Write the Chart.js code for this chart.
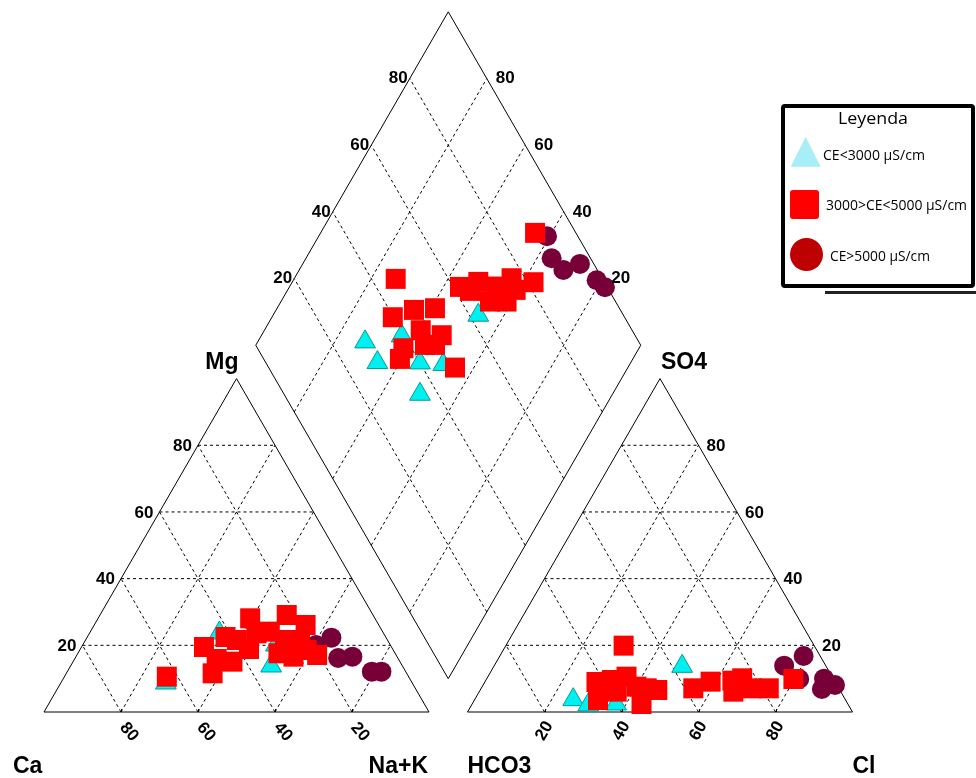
<!DOCTYPE html>
<html><head><meta charset="utf-8">
<script src="https://cdn.jsdelivr.net/npm/chart.js@4.4.0/dist/chart.umd.min.js"></script>
<style>
html,body{margin:0;padding:0;background:#fff;}
#wrap{position:relative;width:976px;height:778px;overflow:hidden;background:#fff;}
#c{position:absolute;left:0;top:0;}
#leg{position:absolute;left:0;top:0;pointer-events:none;}
</style></head>
<body><div id="wrap"><canvas id="c" width="976" height="778"></canvas>
<svg id="leg" width="976" height="778" xmlns="http://www.w3.org/2000/svg">
  <rect x="825" y="291" width="151" height="3" fill="#222"/>
  <rect x="783" y="106" width="190" height="180" rx="2" fill="#fff" stroke="#000" stroke-width="4"/>
  <text x="838" y="124" font-family="Open Sans" font-size="17" textLength="70" lengthAdjust="spacingAndGlyphs">Leyenda</text>
  <polygon points="790.7,166.7 820.7,166.7 805.7,136.7" fill="#a8eef7"/>
  <text x="823" y="160" font-family="Open Sans" font-size="14" textLength="102" lengthAdjust="spacingAndGlyphs">CE&lt;3000 µS/cm</text>
  <rect x="790" y="190" width="29" height="29" rx="3" fill="#ff0000"/>
  <text x="826" y="210" font-family="Open Sans" font-size="14" textLength="141" lengthAdjust="spacingAndGlyphs">3000&gt;CE&lt;5000 µS/cm</text>
  <circle cx="806.5" cy="254.5" r="16.5" fill="#bf0000"/>
  <text x="830" y="260.5" font-family="Open Sans" font-size="14" textLength="100" lengthAdjust="spacingAndGlyphs">CE&gt;5000 µS/cm</text>
</svg>
</div>
<script>
// ---------- data (percent of meq/L) ----------
const ticks = [20, 40, 60, 80];
const axisNames = ['Mg', 'SO4', 'Ca', 'Na+K', 'HCO3', 'Cl'];
const seriesNames = ['CE<3000 µS/cm', '3000>CE<5000 µS/cm', 'CE>5000 µS/cm'];

// cation triangle: [Mg, Na+K]
const catLow  = [[8.7,27.3],[23.7,33.7],[13.8,52.1],[20.1,50.2]];
const catMid  = [[10.6,26.6],[11.6,38.0],[19.5,31.8],[22.5,35.9],[15.9,36.9],[28.1,39.5],[21.6,39.3],[15.1,41.4],[23.6,43.4],[18.9,43.8],[24.1,46.6],[29.1,48.5],[26.1,54.9],[17.6,52.1],[16.6,56.5],[18.6,58.9],[17.1,62.4],[21.6,55.7],[21.6,51.8]];
const catHigh = [[22.3,63.5],[20.1,60.6],[16.2,68.3],[16.6,71.8],[12.1,79.1],[12.1,81.6]];

// anion triangle: [SO4, Cl]
const anLow  = [[13.7,48.9],[3.7,25.6],[2.4,37.4],[2.1,30.3]];
const anMid  = [[19.9,30.6],[9.0,29.0],[3.6,32.1],[10.6,36.0],[6.1,35.7],[2.4,44.0],[7.6,40.1],[6.6,46.0],[7.1,55.1],[9.1,58.6],[9.4,64.1],[10.1,66.3],[6.1,66.0],[7.1,70.3],[7.1,74.7],[9.9,79.7],[9.6,32.7],[7.1,43.0]];
const anHigh = [[13.9,75.3],[16.8,78.9],[9.9,81.2],[10.0,87.6],[6.9,88.6],[8.1,91.4]];

// diamond: [Ca+Mg, Cl+SO4]
const diaLow  = [[72.1,28.9],[65.8,29.0],[63.5,39.3],[46.7,62.3],[54.7,40.0],[48.4,45.8],[50.0,35.3]];
const diaMid  = [[44.3,89.4],[73.6,46.3],[55.7,61.8],[51.7,67.3],[43.6,76.5],[37.3,81.6],[45.7,67.4],[41.4,71.7],[40.8,75.8],[46.2,71.4],[68.6,39.8],[64.2,46.4],[59.0,52.1],[59.4,45.1],[53.2,49.8],[53.5,46.6],[61.2,37.9],[60.5,35.4],[44.9,48.4],[56.1,44.0],[52.5,63.8]];
const diaHigh = [[40.7,92.0],[36.2,89.9],[31.4,91.2],[28.0,96.4],[21.2,98.3],[18.0,99.4]];

// ---------- ternary geometry (triangle side = 100 units) ----------
const H = Math.sqrt(3) / 2;
function cat(mg, nak) { return {x: nak + mg / 2, y: mg * H}; }
function an(so4, cl) { return {x: 110 + cl + so4 / 2, y: so4 * H}; }
function dia(camg, clso4) { return {x: 105 - camg / 2 + clso4 / 2, y: H * (10 + camg + clso4)}; }

const PX = 3.85, OX = 44, OY = 712, W = 976, HH = 778;

const lineSets = [];
function seg(a, b, dashed) {
  lineSets.push({data: [a, b], showLine: true, borderColor: '#000', borderWidth: 1,
    borderDash: dashed ? [3, 3] : [], pointRadius: 0, pointHoverRadius: 0, order: 20, fill: false});
}
// outlines
seg(cat(0,0), cat(0,100)); seg(cat(0,100), cat(100,0)); seg(cat(100,0), cat(0,0));
seg(an(0,0), an(0,100)); seg(an(0,100), an(100,0)); seg(an(100,0), an(0,0));
seg(dia(0,0), dia(100,0)); seg(dia(100,0), dia(100,100)); seg(dia(100,100), dia(0,100)); seg(dia(0,100), dia(0,0));
// grids
ticks.forEach(k => {
  seg(cat(k,0), cat(k,100-k), true);
  seg(cat(0,k), cat(100-k,k), true);
  seg(cat(0,100-k), cat(100-k,0), true);
  seg(an(k,0), an(k,100-k), true);
  seg(an(0,k), an(100-k,k), true);
  seg(an(0,100-k), an(100-k,0), true);
  seg(dia(k,0), dia(k,100), true);
  seg(dia(0,k), dia(100,k), true);
});

const low  = [...catLow.map(p => cat(...p)), ...anLow.map(p => an(...p)), ...diaLow.map(p => dia(...p))];
const mid  = [...catMid.map(p => cat(...p)), ...anMid.map(p => an(...p)), ...diaMid.map(p => dia(...p))];
const high = [...catHigh.map(p => cat(...p)), ...anHigh.map(p => an(...p)), ...diaHigh.map(p => dia(...p))];

const labelPlugin = {
  id: 'labels',
  afterDatasetsDraw(chart) {
    const ctx = chart.ctx, sx = chart.scales.x, sy = chart.scales.y;
    const P = p => [sx.getPixelForValue(p.x), sy.getPixelForValue(p.y)];
    ctx.save();
    ctx.fillStyle = '#000';
    ctx.strokeStyle = '#000';
    ctx.lineWidth = 1;
    // small base ticks
    ticks.forEach(k => {
      [cat(0,k), an(0,k)].forEach(p => {
        const [x, y] = P(p);
        ctx.beginPath(); ctx.moveTo(Math.round(x) + 0.5, y); ctx.lineTo(Math.round(x) + 0.5, y - 3); ctx.stroke();
      });
    });
    ctx.font = 'bold 17px "Liberation Sans", Arial, sans-serif';
    ctx.textBaseline = 'middle';
    ticks.forEach(k => {
      let x, y;
      [x, y] = P(cat(k, 0)); ctx.textAlign = 'right'; ctx.fillText(String(k), x - 6, y + 1);
      [x, y] = P(an(k, 100 - k)); ctx.textAlign = 'left'; ctx.fillText(String(k), x + 8, y + 1);
      [x, y] = P(dia(100, k)); ctx.textAlign = 'right'; ctx.fillText(String(k), x - 2, y);
      [x, y] = P(dia(k, 100)); ctx.textAlign = 'left'; ctx.fillText(String(k), x + 9, y);
      // bottom rotated labels
      [x, y] = P(cat(0, k));
      ctx.save(); ctx.translate(x + 8, y + 20); ctx.rotate(50 * Math.PI / 180);
      ctx.textAlign = 'center'; ctx.fillText(String(100 - k), 0, 0); ctx.restore();
      [x, y] = P(an(0, k));
      ctx.save(); ctx.translate(x, y + 19); ctx.rotate(-60 * Math.PI / 180);
      ctx.textAlign = 'center'; ctx.fillText(String(k), 0, 0); ctx.restore();
    });
    // axis names
    ctx.font = 'bold 23px "Liberation Sans", Arial, sans-serif';
    ctx.textBaseline = 'alphabetic';
    let x, y;
    [x, y] = P(cat(100, 0)); ctx.textAlign = 'right'; ctx.fillText(axisNames[0], x + 2, y - 10);
    [x, y] = P(an(100, 0)); ctx.textAlign = 'left'; ctx.fillText(axisNames[1], x + 1, y - 10);
    [x, y] = P(cat(0, 0)); ctx.textAlign = 'left'; ctx.fillText(axisNames[2], x - 31, y + 61);
    [x, y] = P(cat(0, 100)); ctx.textAlign = 'right'; ctx.fillText(axisNames[3], x - 1, y + 61);
    [x, y] = P(an(0, 0)); ctx.textAlign = 'left'; ctx.fillText(axisNames[4], x, y + 61);
    [x, y] = P(an(0, 100)); ctx.textAlign = 'left'; ctx.fillText(axisNames[5], x, y + 61);
    ctx.restore();
  }
};

new Chart(document.getElementById('c'), {
  type: 'scatter',
  data: {
    datasets: [
      {label: seriesNames[1], data: mid, pointStyle: 'rect', pointRadius: 14.14, pointHoverRadius: 14.14,
       backgroundColor: '#ff0000', borderColor: '#cc0000', borderWidth: 0, order: 1},
      {label: seriesNames[2], data: high, pointStyle: 'circle', pointRadius: 10, pointHoverRadius: 10,
       backgroundColor: '#780038', borderColor: '#780038', borderWidth: 0, order: 2},
      {label: seriesNames[0], data: low, pointStyle: 'triangle', pointRadius: 12, pointHoverRadius: 12,
       backgroundColor: '#00f0f0', borderColor: '#009a9a', borderWidth: 1, order: 3},
      ...lineSets
    ]
  },
  options: {
    responsive: false,
    animation: false,
    devicePixelRatio: 1,
    layout: {padding: 0, autoPadding: false},
    events: [],
    plugins: {legend: {display: false}, tooltip: {enabled: false}},
    scales: {
      x: {type: 'linear', display: false, min: -OX / PX, max: (W - OX) / PX},
      y: {type: 'linear', display: false, min: -(HH - OY) / PX, max: OY / PX}
    }
  },
  plugins: [labelPlugin]
});
</script>
</body></html>
